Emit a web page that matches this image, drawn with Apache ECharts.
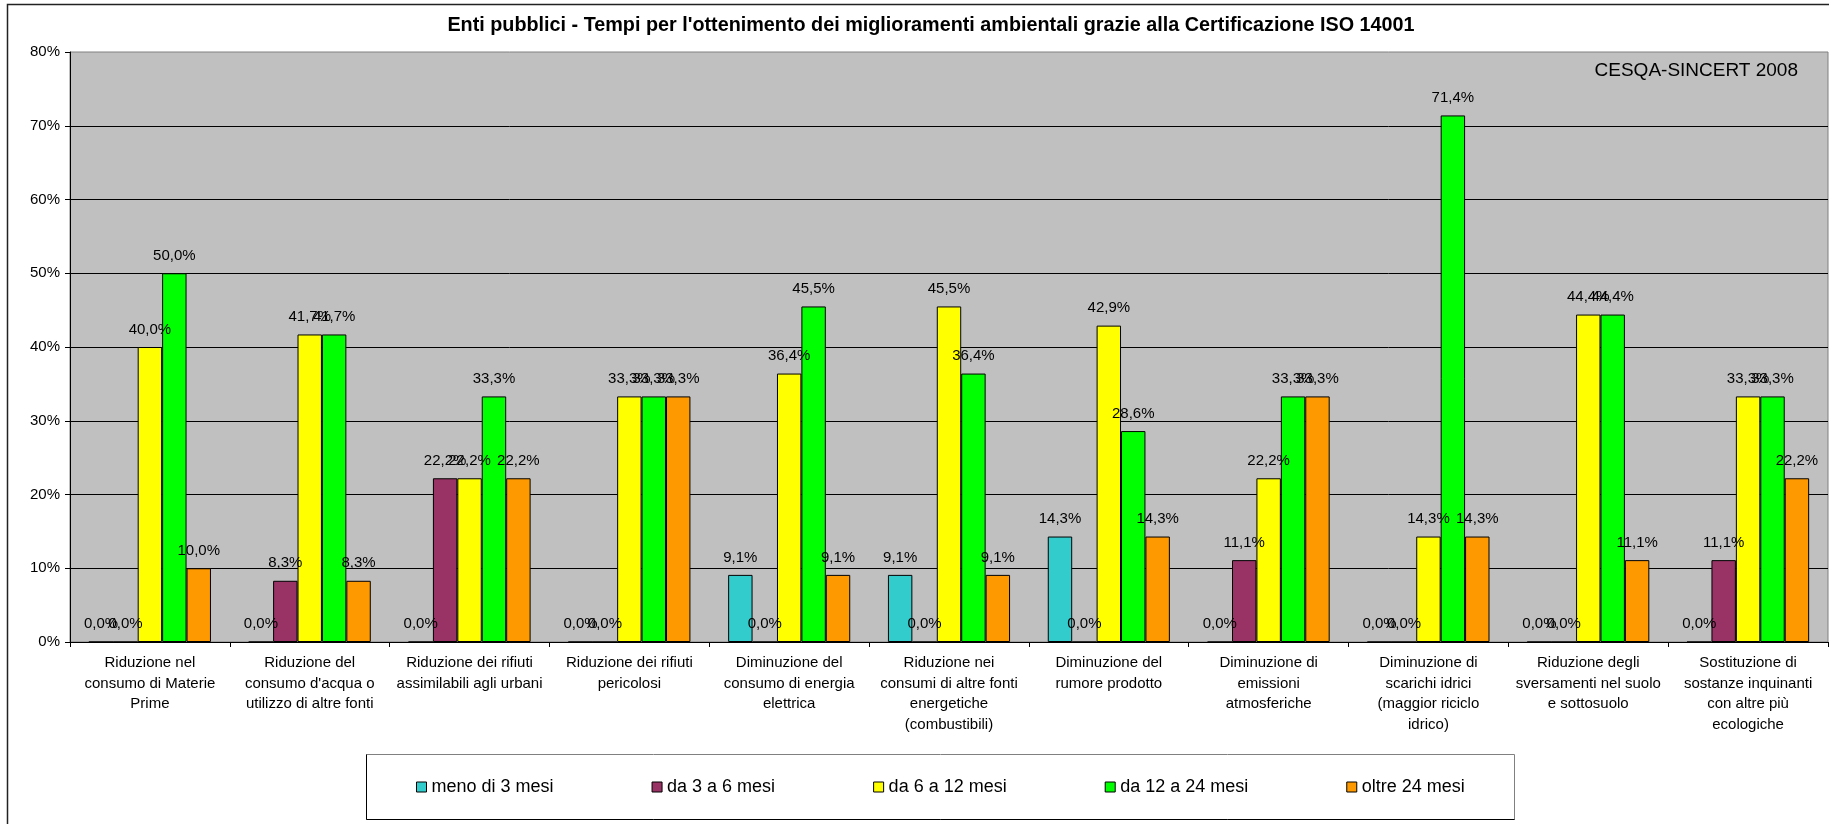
<!DOCTYPE html>
<html>
<head>
<meta charset="utf-8">
<title>Enti pubblici - ISO 14001</title>
<script src="https://cdn.jsdelivr.net/npm/echarts@6/dist/echarts.min.js"></script>
<style>
    html, body { margin: 0; padding: 0; background: #fff; }
    #chart { width: 1829px; height: 824px; }
</style>
</head>
<body>
<div id="chart"></div>
<script>
// categorie (a capo come nell'originale)
var categorie = [
    'Riduzione nel\nconsumo di Materie\nPrime',
    "Riduzione del\nconsumo d'acqua o\nutilizzo di altre fonti",
    'Riduzione dei rifiuti\nassimilabili agli urbani',
    'Riduzione dei rifiuti\npericolosi',
    'Diminuzione del\nconsumo di energia\nelettrica',
    'Riduzione nei\nconsumi di altre fonti\nenergetiche\n(combustibili)',
    'Diminuzione del\nrumore prodotto',
    'Diminuzione di\nemissioni\natmosferiche',
    'Diminuzione di\nscarichi idrici\n(maggior riciclo\nidrico)',
    'Riduzione degli\nsversamenti nel suolo\ne sottosuolo',
    'Sostituzione di\nsostanze inquinanti\ncon altre più\necologiche'
];

var nomiSerie = ['meno di 3 mesi', 'da 3 a 6 mesi', 'da 6 a 12 mesi', 'da 12 a 24 mesi', 'oltre 24 mesi'];
var colori = ['#33CCCC', '#993366', '#FFFF00', '#00FF00', '#FF9900'];

// valori in %
var meno3 = [0.0, 0.0, 0.0, 0.0, 9.1, 9.1, 14.3, 0.0, 0.0, 0.0, 0.0];
var da3a6 = [0.0, 8.3, 22.2, 0.0, 0.0, 0.0, 0.0, 11.1, 0.0, 0.0, 11.1];
var da6a12 = [40.0, 41.7, 22.2, 33.3, 36.4, 45.5, 42.9, 22.2, 14.3, 44.4, 33.3];
var da12a24 = [50.0, 41.7, 33.3, 33.3, 45.5, 36.4, 28.6, 33.3, 71.4, 44.4, 33.3];
var oltre24 = [10.0, 8.3, 22.2, 33.3, 9.1, 9.1, 14.3, 33.3, 14.3, 11.1, 22.2];

var yMax = 80;
var yStep = 10;

var valori = [meno3, da3a6, da6a12, da12a24, oltre24];
var font = 'Arial, "Liberation Sans", sans-serif';

var myChart = echarts.init(document.getElementById('chart'));

var serie = [];
for (var i = 0; i < nomiSerie.length; i++) {
    serie.push({
        name: nomiSerie[i],
        type: 'bar',
        data: valori[i],
        barGap: 0,
        barCategoryGap: '23.6%',
        itemStyle: {
            color: colori[i],
            borderColor: '#000',
            borderWidth: 1
        },
        label: {
            show: true,
            position: 'top',
            distance: 10,
            color: '#000',
            fontFamily: font,
            fontSize: 15,
            formatter: function (p) {
                return p.value.toFixed(1).replace('.', ',') + '%';
            }
        }
    });
}

var option = {
    animation: false,
    backgroundColor: '#fff',
    title: {
        text: "Enti pubblici - Tempi per l'ottenimento dei miglioramenti ambientali grazie alla Certificazione ISO 14001",
        left: 931,
        top: 16,
        padding: 0,
        textAlign: 'center',
        textStyle: {
            fontFamily: font,
            fontSize: 19.8,
            fontWeight: 'bold',
            color: '#000'
        }
    },
    legend: {
        data: nomiSerie,
        left: 416,
        top: 778,
        padding: 0,
        itemGap: 98,
        itemWidth: 10,
        itemHeight: 10,
        icon: 'rect',
        itemStyle: { borderColor: '#000', borderWidth: 1 },
        textStyle: {
            fontFamily: font,
            fontSize: 18,
            lineHeight: 18,
            color: '#000'
        }
    },
    grid: {
        left: 70,
        right: 1,
        top: 52,
        bottom: 182,
        show: true,
        backgroundColor: '#C0C0C0',
        borderColor: '#808080',
        borderWidth: 1
    },
    xAxis: {
        type: 'category',
        data: categorie,
        axisLine: { lineStyle: { color: '#000', width: 1 } },
        axisTick: { show: true, length: 5, lineStyle: { color: '#000' } },
        axisLabel: {
            interval: 0,
            margin: 11,
            color: '#000',
            fontFamily: font,
            fontSize: 15,
            lineHeight: 20.5,
            align: 'center'
        }
    },
    yAxis: {
        type: 'value',
        min: 0,
        max: yMax,
        interval: yStep,
        axisLine: { show: true, lineStyle: { color: '#000', width: 1 } },
        axisTick: { show: true, length: 5, lineStyle: { color: '#000' } },
        axisLabel: {
            margin: 10,
            color: '#000',
            fontFamily: font,
            fontSize: 15,
            formatter: '{value}%'
        },
        splitLine: {
            show: true,
            showMaxLine: false,
            lineStyle: { color: '#000', width: 1 }
        }
    },
    graphic: [
        // bordo esterno
        {
            type: 'rect',
            shape: { x: 7.5, y: 4.5, width: 1900, height: 900 },
            style: { fill: 'none', stroke: '#222', lineWidth: 1.5 },
            silent: true
        },
        // riquadro legenda
        {
            type: 'rect',
            shape: { x: 366.5, y: 754.5, width: 1148, height: 65 },
            style: { fill: 'none', stroke: '#808080', lineWidth: 1 },
            silent: true
        },
        {
            type: 'polyline',
            shape: { points: [[366.5, 754.5], [366.5, 819.5], [1514.5, 819.5]] },
            style: { fill: 'none', stroke: '#000', lineWidth: 1 },
            silent: true
        },
        // fonte
        {
            type: 'text',
            right: 31,
            top: 61,
            style: {
                text: 'CESQA-SINCERT 2008',
                fill: '#000',
                font: '19px Arial, "Liberation Sans", sans-serif'
            },
            z: 10
        }
    ],
    series: serie
};

myChart.setOption(option);
</script>
</body>
</html>
